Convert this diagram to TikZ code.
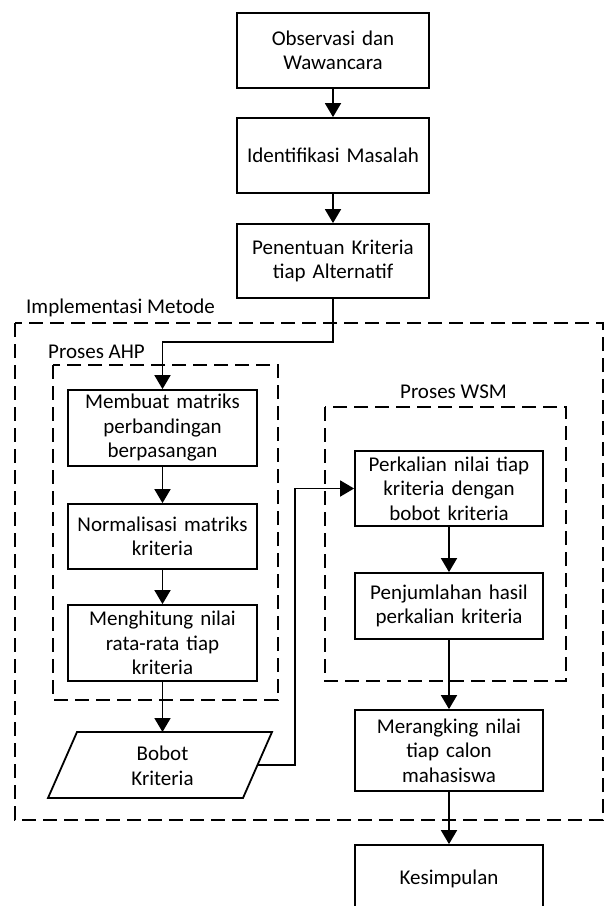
\documentclass[tikz,border=0pt]{standalone}
\usepackage{fontspec}
\setmainfont{Carlito}
\usetikzlibrary{arrows.meta}
\begin{document}
\begin{tikzpicture}[x=1pt,y=-1pt,
  every node/.style={font=\fontsize{21}{24.5}\selectfont, align=center, inner sep=0pt},
  box/.style={draw, line width=1.8pt, minimum width=#1, text width=#1-8pt},
  box/.default=189pt,
  grp/.style={draw, line width=1.8pt, dash pattern=on 14pt off 7pt},
  arr/.style={line width=1.8pt, -{Triangle[length=14pt,width=16pt]}},
  ln/.style={line width=1.8pt}]
\useasboundingbox (0,0) rectangle (611,906);
% containers
\draw[grp] (15,323) rectangle (603,820);
\draw[grp] (53,365) rectangle (278,700);
\draw[grp] (325,407) rectangle (566,681);
\node[anchor=west] (limpl) at (26,308) {Implementasi Metode};
\node[anchor=west] (lahp) at (48,352) {Proses AHP};
\node (lwsm) at (453.5,392) {Proses WSM};
% top chain
\node[box=192pt, minimum height=75pt] (obs) at (333,50.5) {Observasi dan\\Wawancara};
\node[box=192pt, minimum height=75pt] (idm) at (333,155.5) {Identifikasi Masalah};
\node[box=192pt, minimum height=74pt] (pkt) at (333,261) {Penentuan Kriteria\\tiap Alternatif};
% AHP
\node[box, minimum height=76pt] (ahp1) at (162.5,428) {Membuat matriks\\perbandingan\\berpasangan};
\node[box, minimum height=65pt] (ahp2) at (162.5,536.5) {Normalisasi matriks\\kriteria};
\node[box, minimum height=76pt] (ahp3) at (162.5,643) {Menghitung nilai\\rata-rata tiap\\kriteria};
% Bobot parallelogram
\draw[ln, line join=miter] (77,732) -- (272,732) -- (243,798) -- (48,798) -- cycle;
\node (bobot) at (162.5,766) {Bobot\\Kriteria};
\coordinate (bobotN) at (162.5,732);
\coordinate (bobotE) at (257.5,765);
% WSM
\node[box=188pt, minimum height=75pt] (wsm1) at (449,488.5) {Perkalian nilai tiap\\kriteria dengan\\bobot kriteria};
\node[box=188pt, minimum height=66pt] (wsm2) at (449,606) {Penjumlahan hasil\\perkalian kriteria};
\node[box=188pt, minimum height=81pt] (rank) at (449,750.5) {Merangking nilai\\tiap calon\\mahasiswa};
\node[box=188pt, minimum height=68pt] (kes) at (449,879) {Kesimpulan};
% connectors
\coordinate (jn) at (333,342);
\coordinate (bend) at (295,765);
\draw[arr] (obs) -- (idm);
\draw[arr] (idm) -- (pkt);
\draw[arr] (pkt.south) -- (jn) -| (ahp1.north);
\draw[arr] (ahp1) -- (ahp2);
\draw[arr] (ahp2) -- (ahp3);
\draw[arr] (ahp3.south) -- (bobotN);
\draw[arr] (bobotE) -- (bend) |- (wsm1.west);
\draw[arr] (wsm1) -- (wsm2);
\draw[arr] (wsm2) -- (rank);
\draw[arr] (rank) -- (kes);
\end{tikzpicture}
\end{document}
